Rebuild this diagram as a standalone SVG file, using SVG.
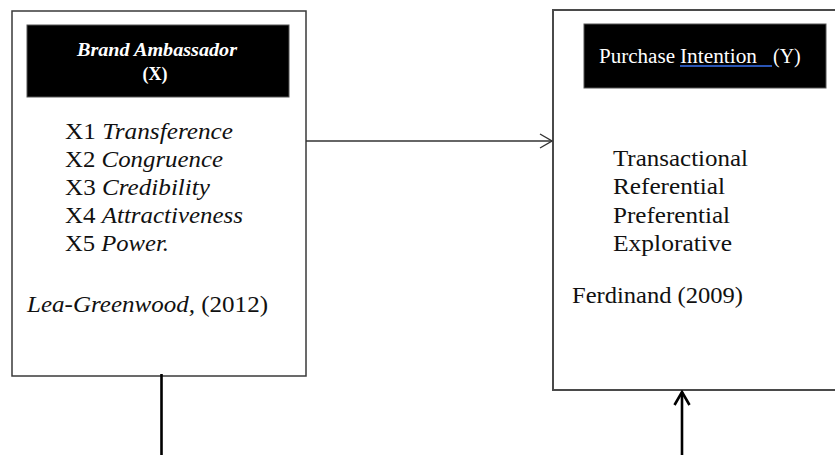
<svg xmlns="http://www.w3.org/2000/svg" width="835" height="455" viewBox="0 0 835 455">
<style>
  text { font-family: "Liberation Serif", "Times New Roman", serif; }
  .box { fill: #ffffff; stroke: #3a3a3a; stroke-width: 1.5; }
  .box2 { fill: #ffffff; stroke: #4a4a4a; stroke-width: 2; }
  .hdr { fill: #000000; stroke: #555555; stroke-width: 1; }
  .hdrtxt { fill: #ffffff; }
  .body { fill: #111111; font-size: 24px; }
  .it { font-style: italic; }
  .thin { stroke: #333333; stroke-width: 1.4; fill: none; }
  .thick { stroke: #000000; stroke-width: 2.6; fill: none; }
</style>
<defs>
  <marker id="chevThin" viewBox="0 0 14 16" refX="13" refY="8" markerWidth="14" markerHeight="16" markerUnits="userSpaceOnUse" orient="auto">
    <path d="M1,1 L13,8 L1,15" fill="none" stroke="#333333" stroke-width="1.4"/>
  </marker>
  <marker id="chevThick" viewBox="0 0 16 18" refX="14" refY="9" markerWidth="16" markerHeight="18" markerUnits="userSpaceOnUse" orient="auto">
    <path d="M1,1.5 L14,9 L1,16.5" fill="none" stroke="#000000" stroke-width="2.6"/>
  </marker>
</defs>
<rect width="835" height="455" fill="#ffffff"/>

<g id="node-brand-ambassador" font-family="Liberation Serif, Times New Roman, serif">
  <rect class="box" x="12" y="11" width="294" height="365"/>
  <rect class="hdr" x="27" y="25" width="262" height="72"/>
  <text class="hdrtxt" x="157" y="56" text-anchor="middle" font-size="18" font-weight="bold" font-style="italic" textLength="160" lengthAdjust="spacingAndGlyphs">Brand Ambassador</text>
  <text class="hdrtxt" x="155" y="80" text-anchor="middle" font-size="18" font-weight="bold">(X)</text>
  <text class="body" x="65" y="139" textLength="168" lengthAdjust="spacingAndGlyphs">X1 <tspan class="it">Transference</tspan></text>
  <text class="body" x="65" y="167" textLength="158" lengthAdjust="spacingAndGlyphs">X2 <tspan class="it">Congruence</tspan></text>
  <text class="body" x="65" y="195" textLength="145" lengthAdjust="spacingAndGlyphs">X3 <tspan class="it">Credibility</tspan></text>
  <text class="body" x="65" y="223" textLength="178" lengthAdjust="spacingAndGlyphs">X4 <tspan class="it">Attractiveness</tspan></text>
  <text class="body" x="65" y="251" textLength="104" lengthAdjust="spacingAndGlyphs">X5 <tspan class="it">Power.</tspan></text>
  <text class="body" x="27" y="312" textLength="241" lengthAdjust="spacingAndGlyphs"><tspan class="it">Lea-Greenwood,</tspan> (2012)</text>
</g>

<g id="node-purchase-intention" font-family="Liberation Serif, Times New Roman, serif">
  <rect class="box2" x="553" y="10" width="300" height="380"/>
  <rect class="hdr" x="584" y="24" width="242" height="64"/>
  <text class="hdrtxt" x="599" y="63" font-size="20" textLength="76" lengthAdjust="spacingAndGlyphs">Purchase</text>
  <text class="hdrtxt" x="680" y="63" font-size="20" textLength="77" lengthAdjust="spacingAndGlyphs">Intention</text>
  <text class="hdrtxt" x="773" y="63" font-size="20">(Y)</text>
  <line x1="680" y1="66" x2="772" y2="66" stroke="#2a55b5" stroke-width="2"/>
  <text class="body" x="613" y="166" textLength="135" lengthAdjust="spacingAndGlyphs">Transactional</text>
  <text class="body" x="613" y="194" textLength="112" lengthAdjust="spacingAndGlyphs">Referential</text>
  <text class="body" x="613" y="223" textLength="117" lengthAdjust="spacingAndGlyphs">Preferential</text>
  <text class="body" x="613" y="251" textLength="119" lengthAdjust="spacingAndGlyphs">Explorative</text>
  <text class="body" x="572" y="303" textLength="171" lengthAdjust="spacingAndGlyphs">Ferdinand (2009)</text>
</g>

<g id="connectors">
  <line class="thin" x1="306" y1="141" x2="552" y2="141" marker-end="url(#chevThin)"/>
  <line class="thick" x1="161.5" y1="374" x2="161.5" y2="455"/>
  <line class="thick" x1="682" y1="455" x2="682" y2="392" marker-end="url(#chevThick)"/>
</g>
</svg>
